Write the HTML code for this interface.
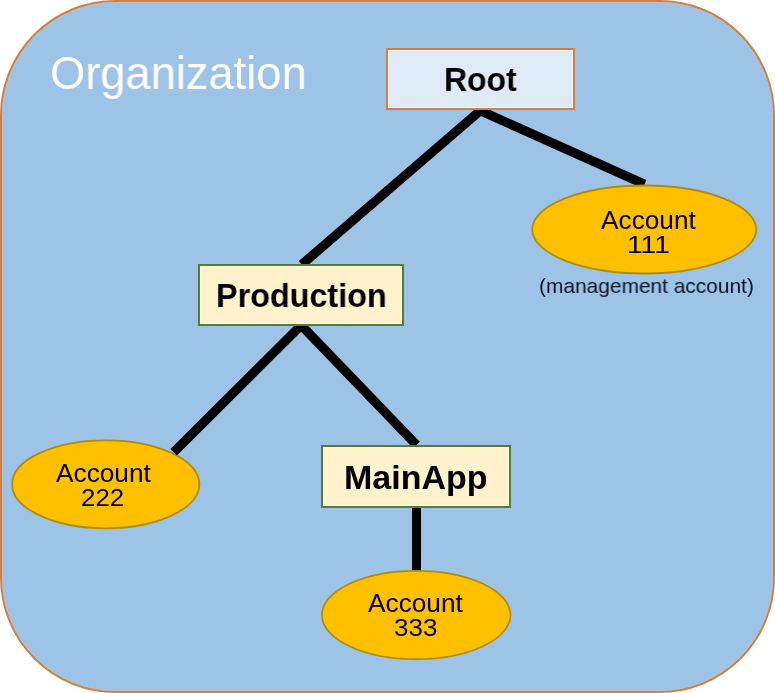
<!DOCTYPE html>
<html><head><meta charset="utf-8"><style>
html,body{margin:0;padding:0;background:#fff;width:775px;height:693px;overflow:hidden}
.t{position:absolute;font-family:"Liberation Sans",sans-serif;line-height:1;white-space:nowrap;transform-origin:0 0;will-change:transform}
</style></head><body>
<svg width="775" height="693" viewBox="0 0 775 693" style="position:absolute;left:0;top:0">
<rect x="1" y="1" width="773" height="691" rx="114.5" ry="114.5" fill="#9DC3E6" stroke="#D3803F" stroke-width="2"/>
<rect x="2.5" y="2.5" width="770" height="688" rx="113" ry="113" fill="none" stroke="#C9BFC2" stroke-width="1" opacity="0.6"/>
<g stroke="#000" stroke-width="9.2" stroke-linecap="butt" fill="none">
<line x1="481" y1="110" x2="301.8" y2="264.5"/>
<line x1="480.5" y1="110.8" x2="644.5" y2="184.3"/>
<line x1="301" y1="325" x2="416.5" y2="445"/>
</g>
<ellipse cx="644.25" cy="229.5" rx="112" ry="44" fill="#FFC000" stroke="#AE8C10" stroke-width="1.8"/>
<line x1="416.5" y1="507" x2="416.5" y2="570.5" stroke="#000" stroke-width="9"/>
<ellipse cx="105.7" cy="484.3" rx="93.6" ry="44" fill="#FFC000" stroke="#AE8C10" stroke-width="1.8"/>
<line x1="301.5" y1="325" x2="173.6" y2="452.2" stroke="#000" stroke-width="9.2"/>
<ellipse cx="416.2" cy="615" rx="94.3" ry="44.2" fill="#FFC000" stroke="#AE8C10" stroke-width="1.8"/>
<rect x="387" y="49" width="187" height="60" fill="#DEEBF7" stroke="#D17F48" stroke-width="2"/>
<rect x="388.5" y="50.5" width="184" height="57" fill="none" stroke="#FFF4EA" stroke-width="1" opacity="0.8"/>
<rect x="199" y="265" width="204" height="60" fill="#FFF2CC" stroke="#507D38" stroke-width="2"/>
<rect x="200.5" y="266.5" width="201" height="57" fill="none" stroke="#FFFFD6" stroke-width="1" opacity="0.9"/>
<rect x="322" y="446" width="188" height="61" fill="#FFF2CC" stroke="#507D38" stroke-width="2"/>
<rect x="323.5" y="447.5" width="185" height="58" fill="none" stroke="#FFFFD6" stroke-width="1" opacity="0.9"/>
</svg>
<div class="t" style="left:50.20px;top:50.55px;font-size:45.5px;font-weight:400;color:#fff;transform:scaleX(0.9950)">Organization</div>
<div class="t" style="left:444.00px;top:62.07px;font-size:34px;font-weight:700;color:#000;transform:scaleX(0.9400)">Root</div>
<div class="t" style="left:216.40px;top:277.77px;font-size:34px;font-weight:700;color:#000;transform:scaleX(0.9510)">Production</div>
<div class="t" style="left:344.20px;top:459.87px;font-size:34px;font-weight:700;color:#000;transform:scaleX(0.9980)">MainApp</div>
<div class="t" style="left:600.80px;top:207.57px;font-size:25px;font-weight:400;color:#000;transform:scaleX(1.0500)">Account</div>
<div class="t" style="left:626.70px;top:232.90px;font-size:24.5px;font-weight:400;color:#000;transform:scaleX(1.1500)">111</div>
<div class="t" style="left:56.00px;top:460.57px;font-size:25px;font-weight:400;color:#000;transform:scaleX(1.0500)">Account</div>
<div class="t" style="left:81.20px;top:485.90px;font-size:24.5px;font-weight:400;color:#000;transform:scaleX(1.0550)">222</div>
<div class="t" style="left:368.20px;top:590.58px;font-size:25px;font-weight:400;color:#000;transform:scaleX(1.0500)">Account</div>
<div class="t" style="left:393.60px;top:615.90px;font-size:24.5px;font-weight:400;color:#000;transform:scaleX(1.0600)">333</div>
<div class="t" style="left:538.60px;top:274.65px;font-size:21px;font-weight:400;color:#0B1424;transform:scaleX(0.9950)">(management account)</div>
</body></html>
